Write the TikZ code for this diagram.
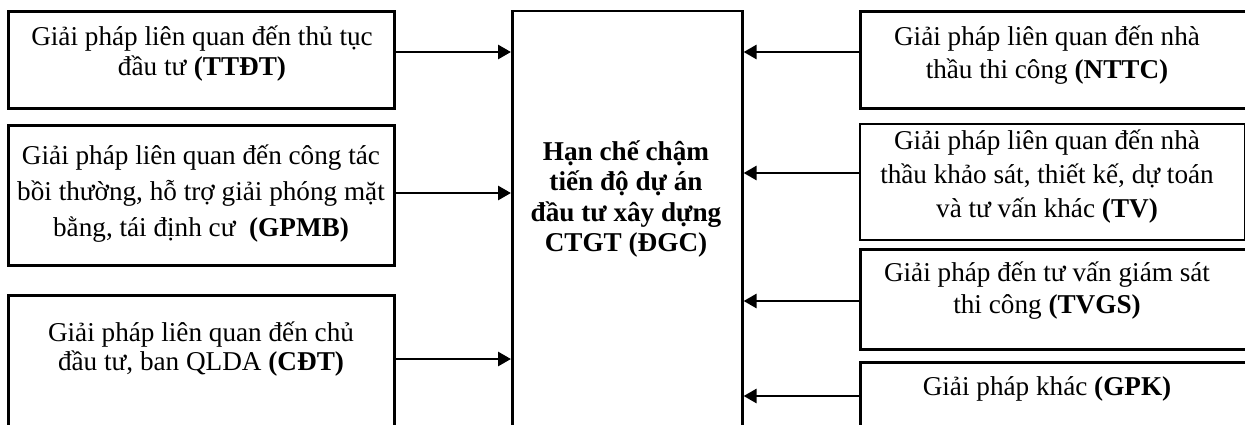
\documentclass[tikz,border=0pt]{standalone}
\usepackage{fontspec}
\setmainfont{Liberation Serif}
\usetikzlibrary{arrows.meta}
\begin{document}
\begin{tikzpicture}[x=1pt,y=-1pt,
  box/.style={draw=black,line width=2.6pt,rectangle,inner sep=0pt,anchor=north west},
  thinbox/.style={draw=black,line width=1.6pt,rectangle,inner sep=0pt,anchor=north west},
  txt/.style={align=center,inner sep=0pt,font=\fontsize{27.2}{32}\selectfont},
  arr/.style={line width=2.8pt,-{Triangle[length=13pt,width=14pt]}}]
\useasboundingbox (0,0) rectangle (1245,424);
\clip (0,0) rectangle (1245,424);
% left boxes
\node[box,minimum width=386pt,minimum height=97pt] (l1) at (7,10) {};
\node[box,minimum width=386pt,minimum height=140pt] (l2) at (7,124) {};
\node[box,minimum width=386pt,minimum height=160pt] (l3) at (7,294) {};
% centre box
\node[box,minimum width=230pt,minimum height=440pt] (c) at (511,9.5) {};
% right boxes
\node[box,minimum width=420pt,minimum height=97pt] (r1) at (859,10) {};
\node[thinbox,minimum width=385pt,minimum height=116pt] (r2) at (859,123) {};
\node[box,minimum width=420pt,minimum height=100pt] (r3) at (859,248) {};
\node[box,minimum width=420pt,minimum height=100pt] (r4) at (859,361) {};
% texts
\node[txt,font=\fontsize{27.2}{30}\selectfont] (tl1) at (202,54) {Giải pháp liên quan đến thủ tục\\đầu tư \textbf{(TTĐT)}};
\node[txt,font=\fontsize{27.2}{36}\selectfont] (tl2) at (201,194) {Giải pháp liên quan đến công tác\\bồi thường, hỗ trợ giải phóng mặt\\bằng, tái định cư~ \textbf{(GPMB)}};
\node[txt,font=\fontsize{27.2}{29.5}\selectfont] (tl3) at (201,349) {Giải pháp liên quan đến chủ\\đầu tư, ban QLDA \textbf{(CĐT)}};
\node[txt,font=\fontsize{27.2}{30.5}\selectfont\bfseries] (tc) at (626,199) {Hạn chế chậm\\tiến độ dự án\\đầu tư xây dựng\\CTGT (ĐGC)};
\node[txt,font=\fontsize{27.2}{33}\selectfont] (tr1) at (1047,55) {Giải pháp liên quan đến nhà\\thầu thi công \textbf{(NTTC)}};
\node[txt,font=\fontsize{27.2}{34}\selectfont] (tr2) at (1047,177) {Giải pháp liên quan đến nhà\\thầu khảo sát, thiết kế, dự toán\\và tư vấn khác \textbf{(TV)}};
\node[txt] (tr3) at (1047,291) {Giải pháp đến tư vấn giám sát\\thi công \textbf{(TVGS)}};
\node[txt] (tr4) at (1047,389) {Giải pháp khác \textbf{(GPK)}};
% arrows
\draw[arr] (l1.east |- 0,52) -- (c.west |- 0,52);
\draw[arr] (l2.east |- 0,193) -- (c.west |- 0,193);
\draw[arr] (l3.east |- 0,359) -- (c.west |- 0,359);
\draw[arr] (r1.west |- 0,52) -- (c.east |- 0,52);
\draw[arr] (r2.west |- 0,173) -- (c.east |- 0,173);
\draw[arr] (r3.west |- 0,301) -- (c.east |- 0,301);
\draw[arr] (r4.west |- 0,396) -- (c.east |- 0,396);
\end{tikzpicture}
\end{document}
